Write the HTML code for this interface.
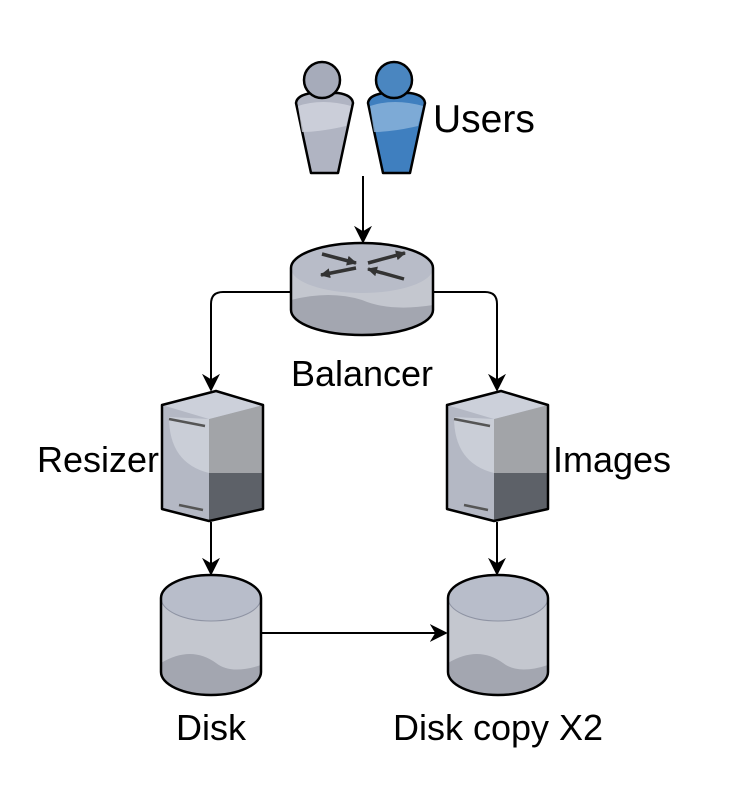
<!DOCTYPE html>
<html><head><meta charset="utf-8"><style>
html,body{margin:0;padding:0;background:#fff}
svg{display:block}
text{font-family:"Liberation Sans",Arial,sans-serif;font-size:36px;fill:#000}
</style></head><body>
<svg width="742" height="794" viewBox="0 0 742 794" xmlns="http://www.w3.org/2000/svg">
<defs>
<marker id="ah" viewBox="0 0 10 10" refX="9" refY="5" markerWidth="18" markerHeight="18" markerUnits="userSpaceOnUse" orient="auto">
<path d="M0,0 L10,5 L0,10 L3,5 Z" fill="#000"/></marker>
<marker id="ra" viewBox="0 0 10 10" refX="9" refY="5" markerWidth="10" markerHeight="10" markerUnits="userSpaceOnUse" orient="auto">
<path d="M0,0 L10,5 L0,10 Z" fill="#333"/></marker>
<g id="server">
<path d="M1,12 L55,-2 L102,12 L102,116 L48,128 L1,116 Z" fill="#b4b8c4"/>
<path d="M48,26 L102,12 L102,80 L48,80 Z" fill="#a2a4a8"/>
<path d="M48,80 L102,80 L102,116 L48,128 Z" fill="#5d6168"/>
<path d="M1,12 L55,-2 L102,12 L48,26 Z" fill="#ccd0da"/>
<path d="M8,24 Q8,70 48,80 L48,26 Z" fill="#d0d3dc" opacity="0.8"/>
<line x1="8" y1="26" x2="44" y2="33" stroke="#555" stroke-width="2.5"/>
<line x1="18" y1="112" x2="42" y2="117" stroke="#555" stroke-width="2.5"/>
<path d="M1,12 L55,-2 L102,12 L102,116 L48,128 L1,116 Z" fill="none" stroke="#000" stroke-width="2.5" stroke-linejoin="round"/>
</g>
<g id="disk">
<path d="M0,23 L0,97 A50,23 0 0 0 100,97 L100,23 Z" fill="#c4c7cf"/>
<path d="M0,88 Q30,70 55,88 Q70,100 100,90 L100,97 A50,23 0 0 1 0,97 Z" fill="#a3a6b0"/>
<ellipse cx="50" cy="23" rx="50" ry="23" fill="#b8bdca" stroke="#8e93a3" stroke-width="1"/>
<path d="M0,23 A50,23 0 0 1 100,23 L100,97 A50,23 0 0 1 0,97 Z" fill="none" stroke="#000" stroke-width="2.5"/>
</g>
</defs>
<!-- users -->
<g stroke="#000" stroke-width="2.5" stroke-linejoin="round">
<path d="M296,103 Q297,95 312,93 L338,93 Q352,95 353,103 L338,173 L311,173 Z" fill="#b0b4c2"/>
<circle cx="322" cy="80" r="18" fill="#a6abba"/>
<path d="M368,103 Q369,95 384,93 L410,93 Q424,95 425,103 L410,173 L383,173 Z" fill="#3f7fbf"/>
<circle cx="394" cy="80" r="18" fill="#4a86c0"/>
</g>
<path d="M298,106 Q322,98 351,106 L346,126 Q320,132 302,132 Z" fill="#d2d5de" opacity="0.8"/>
<path d="M370,106 Q394,98 423,106 L418,126 Q392,132 374,132 Z" fill="#8db5dc" opacity="0.8"/>
<text x="433" y="132" style="font-size:39px">Users</text>
<!-- router -->
<path d="M291,268 L291,310 A71,25 0 0 0 433,310 L433,268 Z" fill="#c4c7cf"/>
<path d="M291,300 Q330,290 362,300 Q390,312 433,305 L433,310 A71,25 0 0 1 291,310 Z" fill="#a3a6b0"/>
<ellipse cx="362" cy="268" rx="71" ry="25" fill="#b8bcc8"/>
<path d="M291,268 A71,25 0 0 1 433,268 L433,310 A71,25 0 0 1 291,310 Z" fill="none" stroke="#000" stroke-width="2.5"/>
<g stroke="#333" stroke-width="3.5">
<line x1="322" y1="254" x2="356" y2="263" marker-end="url(#ra)"/>
<line x1="368" y1="263" x2="405" y2="253" marker-end="url(#ra)"/>
<line x1="356" y1="268" x2="321" y2="275" marker-end="url(#ra)"/>
<line x1="404" y1="279" x2="368" y2="269" marker-end="url(#ra)"/>
</g>
<!-- connectors -->
<g stroke="#000" stroke-width="2" fill="none">
<line x1="363" y1="176" x2="363" y2="242" marker-end="url(#ah)"/>
<path d="M291,292 L223,292 Q211,292 211,304 L211,390" marker-end="url(#ah)"/>
<path d="M433,292 L485,292 Q497,292 497,304 L497,390" marker-end="url(#ah)"/>
<line x1="211" y1="522" x2="211" y2="574" marker-end="url(#ah)"/>
<line x1="497" y1="522" x2="497" y2="574" marker-end="url(#ah)"/>
<line x1="262" y1="633" x2="446" y2="633" marker-end="url(#ah)"/>
</g>
<use href="#server" x="161" y="393"/>
<use href="#server" x="446" y="393"/>
<use href="#disk" x="161" y="575"/>
<use href="#disk" x="448" y="575"/>
<text x="362" y="386" text-anchor="middle">Balancer</text>
<text x="37" y="472">Resizer</text>
<text x="553" y="472">Images</text>
<text x="211" y="740" text-anchor="middle">Disk</text>
<text x="498" y="740" text-anchor="middle">Disk copy X2</text>
</svg>
</body></html>
